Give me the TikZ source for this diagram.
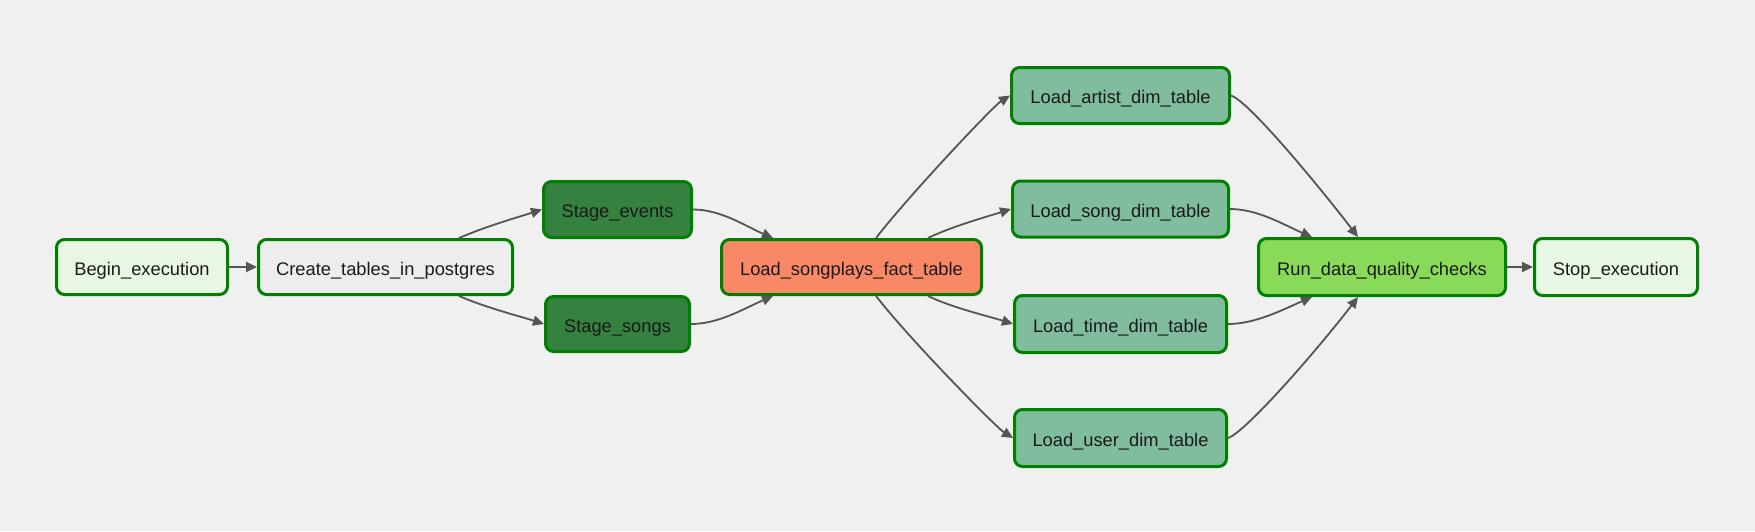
\documentclass[tikz,border=0pt]{standalone}
\usepackage{fontspec}
\setmainfont{Liberation Sans}
\usetikzlibrary{arrows.meta,calc}
\definecolor{bg}{HTML}{F0F0F0}
\definecolor{bordergreen}{HTML}{008000}
\definecolor{lightgreen}{HTML}{E8F7E4}
\definecolor{lightgray}{HTML}{EDEDED}
\definecolor{stagegreen}{HTML}{358140}
\definecolor{salmon}{HTML}{F98866}
\definecolor{dimgreen}{HTML}{80BD9E}
\definecolor{checkgreen}{HTML}{89DA59}
\definecolor{edgegray}{HTML}{555555}
\definecolor{txt}{HTML}{1A1A1A}
\tikzset{
  task/.style={draw=bordergreen, line width=3pt, rounded corners=8pt, minimum height=55pt,
    inner sep=0pt, text=txt, text height=16pt, text depth=0pt, font=\fontsize{18.3}{22}\selectfont},
  conn/.style={draw=edgegray, line width=1.8pt, -{Triangle[length=11pt,width=10pt]}},
}
\begin{document}
\begin{tikzpicture}[x=1pt,y=-1pt]
\fill[bg] (0,0) rectangle (1755,531);
\useasboundingbox (0,0) rectangle (1755,531);

\node[task, fill=lightgreen, minimum width=171pt] (begin) at (142,267) {Begin\_execution};
\node[task, fill=lightgray, minimum width=254pt] (create) at (385.5,267) {Create\_tables\_in\_postgres};
\node[task, fill=stagegreen, minimum width=148pt, minimum height=56pt] (sevents) at (617.5,209.5) {Stage\_events};
\node[task, fill=stagegreen, minimum width=144pt] (ssongs) at (617.5,324) {Stage\_songs};
\node[task, fill=salmon, minimum width=260pt] (fact) at (851.5,267) {Load\_songplays\_fact\_table};
\node[task, fill=dimgreen, minimum width=218pt, minimum height=56pt] (artist) at (1120.5,95.5) {Load\_artist\_dim\_table};
\node[task, fill=dimgreen, minimum width=216pt, minimum height=56pt] (song) at (1120.5,209) {Load\_song\_dim\_table};
\node[task, fill=dimgreen, minimum width=212pt, minimum height=57pt] (time) at (1120.5,324) {Load\_time\_dim\_table};
\node[task, fill=dimgreen, minimum width=212pt, minimum height=57pt] (user) at (1120.5,438) {Load\_user\_dim\_table};
\node[task, fill=checkgreen, minimum width=247pt, minimum height=57pt] (checks) at (1382,267) {Run\_data\_quality\_checks};
\node[task, fill=lightgreen, minimum width=163pt, minimum height=57pt] (stop) at (1616,267) {Stop\_execution};

\draw[conn] (begin.east) -- (create.west);
\draw[conn] ([xshift=73.5pt]create.north) .. controls +(28,-12) and +(-25,8) .. (sevents.west);
\draw[conn] ([xshift=73.5pt]create.south) .. controls +(28,12) and +(-25,-8) .. (ssongs.west);
\draw[conn] (sevents.east) .. controls +(28,0) and +(-28,-12) .. ([xshift=-78.5pt]fact.north);
\draw[conn] (ssongs.east) .. controls +(28,0) and +(-28,12) .. ([xshift=-78.5pt]fact.south);
\draw[conn] ([xshift=24.5pt]fact.north) .. controls +(35,-45) and +(-16,10) .. (artist.west);
\draw[conn] ([xshift=76.5pt]fact.north) .. controls +(25,-12) and +(-25,8) .. (song.west);
\draw[conn] ([xshift=76.5pt]fact.south) .. controls +(25,12) and +(-25,-8) .. (time.west);
\draw[conn] ([xshift=24.5pt]fact.south) .. controls +(35,45) and +(-16,-10) .. (user.west);
\draw[conn] (artist.east) .. controls +(18,6) and +(-40,-52) .. ([xshift=-24pt]checks.north);
\draw[conn] (song.east) .. controls +(28,0) and +(-28,-12) .. ([xshift=-70pt]checks.north);
\draw[conn] (time.east) .. controls +(28,0) and +(-28,12) .. ([xshift=-70pt]checks.south);
\draw[conn] (user.east) .. controls +(18,-6) and +(-40,52) .. ([xshift=-24pt]checks.south);
\draw[conn] (checks.east) -- (stop.west);
\end{tikzpicture}
\end{document}
